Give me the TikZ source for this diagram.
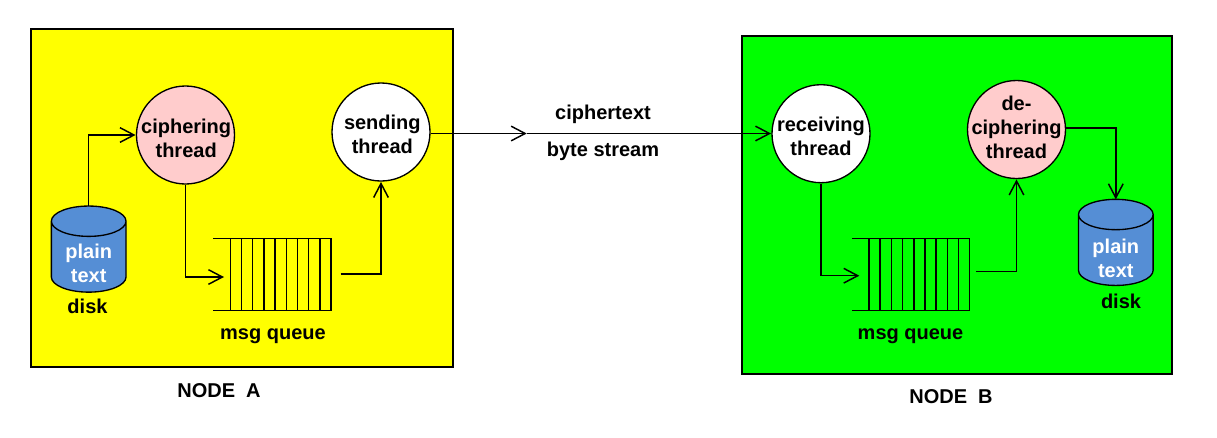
\documentclass[tikz,border=0pt]{standalone}
\usepackage{fontspec}
\setmainfont{Liberation Sans}
\usetikzlibrary{shapes.geometric}
\usetikzlibrary{arrows.meta}
\definecolor{threadpink}{HTML}{FFCCCC}
\definecolor{diskblue}{HTML}{558ED5}
\definecolor{nodeyellow}{HTML}{FFFF00}
\definecolor{nodegreen}{HTML}{00FF00}
\tikzset{
  label text/.style = {font=\fontsize{15}{18}\selectfont\bfseries, align=center, inner sep=0pt},
  thread/.style = {circle, draw=black, line width=1pt, minimum size=73.5pt, inner sep=0pt, outer sep=0.7pt},
  cthread/.style = {thread, fill=threadpink},% thread that ciphers
  sthread/.style = {thread, fill=white},% thread on the wire
  disk/.style = {label text, text=white, cylinder, shape border rotate=90, aspect=0.65, draw=black, line width=1pt, inner ysep=-4.1pt,
    cylinder uses custom fill, cylinder body fill=diskblue, cylinder end fill=diskblue, minimum width=56pt, minimum height=60pt, outer sep=0pt},
  box/.style = {draw=black, line width=1pt, inner sep=0pt},
}
\begin{document}
\begin{tikzpicture}[x=0.75pt,y=-0.75pt,->,>={Straight Barb[length=10.5pt,width=11pt]},line width=1.1pt]
\useasboundingbox (0,0) rectangle (1217,437);
\node (nodea) [box, fill=nodeyellow, minimum width=316.5pt, minimum height=253.5pt] at (242,198) {};
\node (nodeb) [box, fill=nodegreen, minimum width=322.5pt, minimum height=253.5pt] at (957,205) {};
% node A
\node (diska) [disk] at (88.7,257) {\rule{0pt}{20pt}plain\\text};
\node (cipher) [cthread, label={[label text, xshift=0.5pt, yshift=-2.7pt]center:ciphering\\thread}] at (185.5,135) {};
\node (send) [sthread, label={[label text, xshift=1pt, yshift=-1.5pt]center:sending\\thread}] at (381,132) {};
\coordinate (ina) at (224,277);
\coordinate (outa) at (340.7,274);
\draw[-] (213.3,238.3) -- (331,238.3) -- (331,310.7) -- (213.3,310.7);
\foreach \i in {0,...,8} \draw[-] (230.3+11.2*\i,238.3) -- (230.3+11.2*\i,310.7);
% node B
\node (recv) [sthread, label={[label text, yshift=-2pt]center:receiving\\thread}] at (821,133.7) {};
\node (decipher) [cthread, label={[label text, yshift=1.5pt]center:de-\\ciphering\\thread}] at (1016.5,129.5) {};
\node (diskb) [disk, inner ysep=-5.6pt] at (1115.8,250.3) {\rule{0pt}{23pt}plain\\text};
\coordinate (inb) at (859.3,275.7);
\coordinate (outb) at (976,271.3);
\draw[-] (852.3,238.3) -- (969.7,238.3) -- (969.7,310.7) -- (852.3,310.7);
\foreach \i in {0,...,8} \draw[-] (869+11.2*\i,238.3) -- (869+11.2*\i,310.7);
% connectors
\coordinate (mid) at (526.7,133.5);
\draw (diska.north) |- (cipher.west);
\draw (cipher.south) |- (ina);
\draw (outa) -| (send.south);
\draw (mid -| send.east) -- (mid);
\draw (mid) -- (mid -| recv.west);
\draw (recv.south) |- (inb);
\draw (outb) -| (decipher.south);
\draw ([yshift=1pt]decipher.east) -| (diskb.north);
% labels
\node (diskla) [label text] at (87.5,306) {disk};
\node (msga) [label text] at (273,336.5) {msg queue};
\node (namea) [label text] at (219,391) {NODE\ \ A};
\node (ctext) [label text] at (603,114) {ciphertext};
\node (bytes) [label text] at (603,151) {byte stream};
\node (disklb) [label text] at (1121,301) {disk};
\node (msgb) [label text] at (910.5,336.5) {msg queue};
\node (nameb) [label text] at (951,397) {NODE\ \ B};
\end{tikzpicture}
\end{document}
